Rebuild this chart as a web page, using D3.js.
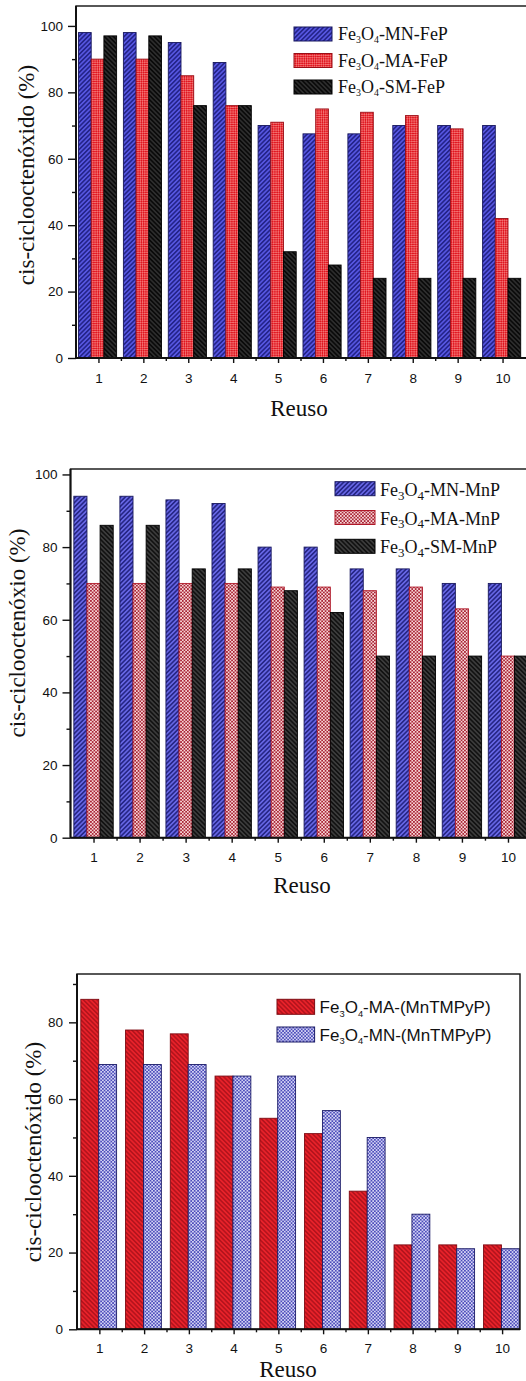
<!DOCTYPE html>
<html>
<head>
<meta charset="utf-8">
<script src="https://cdn.jsdelivr.net/npm/d3@7/dist/d3.min.js"></script>
<style>
  html, body { margin: 0; padding: 0; background: #fff; }
  svg { display: block; }
</style>
</head>
<body>
<svg id="fig" width="526" height="1381"></svg>
<script>
// Reuse cycles (x categories) and tick labels
const reuso = [1, 2, 3, 4, 5, 6, 7, 8, 9, 10];
const xTickLabels = ["1", "2", "3", "4", "5", "6", "7", "8", "9", "10"];

// Panel 1: FeP catalysts, cis-cyclooctene oxide yield (%)
const mnFeP = [98, 98, 95, 89, 70, 67.5, 67.5, 70, 70, 70];
const maFeP = [90, 90, 85, 76, 71, 75, 74, 73, 69, 42];
const smFeP = [97, 97, 76, 76, 32, 28, 24, 24, 24, 24];
const namesFeP = ["Fe3O4-MN-FeP", "Fe3O4-MA-FeP", "Fe3O4-SM-FeP"];

// Panel 2: MnP catalysts
const mnMnP = [94, 94, 93, 92, 80, 80, 74, 74, 70, 70];
const maMnP = [70, 70, 70, 70, 69, 69, 68, 69, 63, 50];
const smMnP = [86, 86, 74, 74, 68, 62, 50, 50, 50, 50];
const namesMnP = ["Fe3O4-MN-MnP", "Fe3O4-MA-MnP", "Fe3O4-SM-MnP"];

// Panel 3: MnTMPyP catalysts
const maTMPyP = [86, 78, 77, 66, 55, 51, 36, 22, 22, 22];
const mnTMPyP = [69, 69, 69, 66, 66, 57, 50, 30, 21, 21];
const namesTMPyP = ["Fe3O4-MA-(MnTMPyP)", "Fe3O4-MN-(MnTMPyP)"];

// Axis ticks
const yTicks100 = [0, 20, 40, 60, 80, 100];
const yMinor100 = [10, 30, 50, 70, 90];
const yTicks90 = [0, 20, 40, 60, 80];
const yMinor90 = [10, 30, 50, 70, 90];
const xMinor = [1.5, 2.5, 3.5, 4.5, 5.5, 6.5, 7.5, 8.5, 9.5];

const svg = d3.select("#fig");
svg.append("rect").attr("width", 526).attr("height", 1381).attr("fill", "#fff");
const defs = svg.append("defs");

function hatch(id, bg, fg, angle, period, lw) {
  const p = defs.append("pattern").attr("id", id)
    .attr("patternUnits", "userSpaceOnUse")
    .attr("width", period).attr("height", period)
    .attr("patternTransform", `rotate(${angle})`);
  p.append("rect").attr("width", period).attr("height", period).attr("fill", bg);
  p.append("line").attr("x1", period / 2).attr("y1", -1)
    .attr("x2", period / 2).attr("y2", period + 1)
    .attr("stroke", fg).attr("stroke-width", lw);
}
function checker(id, bg, fg, cell, angle) {
  const p = defs.append("pattern").attr("id", id)
    .attr("patternUnits", "userSpaceOnUse")
    .attr("width", cell * 2).attr("height", cell * 2)
    .attr("patternTransform", `rotate(${angle})`);
  p.append("rect").attr("width", cell * 2).attr("height", cell * 2).attr("fill", bg);
  p.append("rect").attr("width", cell).attr("height", cell).attr("fill", fg);
  p.append("rect").attr("x", cell).attr("y", cell).attr("width", cell).attr("height", cell).attr("fill", fg);
}

hatch("blueHatch1", "#5656e0", "#1c1c7e", 45, 3.2, 1.4);
checker("redCheck1", "#e01620", "#f27070", 1.6, 45);
hatch("blackHatch1", "#0a0a0a", "#383838", -45, 3.2, 1.2);
hatch("blueHatch2", "#6666e4", "#1e1e7a", 45, 3.2, 1.4);
checker("pinkCheck2", "#f8d6d8", "#a82434", 1.7, 0);
hatch("blackHatch2", "#121212", "#4a4a4a", -45, 3.2, 1.2);
hatch("redHatch3", "#e8222a", "#a8101a", -45, 3.2, 1.3);
checker("blueCheck3", "#d4d4f4", "#4c4cba", 1.7, 0);

function legendText(sel, name, subScale, subShift) {
  // digits in the formula (Fe3O4) are drawn as subscripts
  const parts = name.match(/\d|[^\d]+/g);
  parts.forEach(part => {
    if (/^\d$/.test(part)) {
      sel.append("tspan").attr("font-size", `${subScale}em`).attr("dy", `${subShift}em`).text(part);
    } else {
      const t = sel.append("tspan").text(part);
      if (sel.selectAll("tspan").size() > 1) t.attr("dy", `${-subShift * subScale}em`);
    }
  });
}

function drawChart(cfg) {
  const g = svg.append("g");
  const x = d3.scaleLinear().domain(cfg.xDomain).range([cfg.left, cfg.right]);
  const y = d3.scaleLinear().domain([0, cfg.yMax]).range([cfg.bottom, cfg.top]);

  // bars
  const n = cfg.series.length;
  const bw = cfg.barWidth;
  cfg.series.forEach((s, i) => {
    g.append("g").selectAll("rect").data(s.values).enter().append("rect")
      .attr("x", (d, j) => x(reuso[j] + (i - n / 2) * bw + cfg.shift))
      .attr("y", d => y(d))
      .attr("width", x(cfg.xDomain[0] + bw) - x(cfg.xDomain[0]))
      .attr("height", d => y(0) - y(d))
      .attr("fill", `url(#${s.fill})`)
      .attr("stroke", s.stroke).attr("stroke-width", 0.9);
  });

  // frame
  g.append("rect").attr("x", cfg.left).attr("y", cfg.top)
    .attr("width", cfg.frameRight - cfg.left).attr("height", cfg.bottom - cfg.top)
    .attr("fill", "none").attr("stroke", "#111").attr("stroke-width", 1.4);

  // y axis
  const yAxis = g.append("g").attr("transform", `translate(${cfg.left},0)`)
    .call(d3.axisLeft(y).tickValues(cfg.yTicks).tickSize(8).tickPadding(cfg.yPad)
      .tickFormat(d3.format("d")).tickSizeOuter(0));
  const yMinorAxis = g.append("g").attr("transform", `translate(${cfg.left},0)`)
    .call(d3.axisLeft(y).tickValues(cfg.yMinor).tickSize(4).tickFormat("").tickSizeOuter(0));

  // x axis
  const xAxis = g.append("g").attr("transform", `translate(0,${cfg.bottom})`)
    .call(d3.axisBottom(x).tickValues(reuso).tickSize(5).tickPadding(cfg.xPad)
      .tickFormat((d, i) => xTickLabels[i]).tickSizeOuter(0));
  const xMinorAxis = g.append("g").attr("transform", `translate(0,${cfg.bottom})`)
    .call(d3.axisBottom(x).tickValues(xMinor).tickSize(3).tickFormat("").tickSizeOuter(0));

  [yAxis, yMinorAxis, xAxis, xMinorAxis].forEach(a => {
    a.select(".domain").remove();
    a.selectAll("line").attr("stroke", "#111").attr("stroke-width", 1.4);
    a.selectAll("text").attr("font-family", "'Liberation Sans', Arial, sans-serif")
      .attr("font-size", 13.5).attr("fill", "#111");
  });

  // axis lines drawn heavier
  g.append("line").attr("x1", cfg.left).attr("x2", cfg.left).attr("y1", cfg.top).attr("y2", cfg.bottom)
    .attr("stroke", "#111").attr("stroke-width", 2);
  g.append("line").attr("x1", cfg.left).attr("x2", cfg.frameRight).attr("y1", cfg.bottom).attr("y2", cfg.bottom)
    .attr("stroke", "#111").attr("stroke-width", 2);

  // axis titles
  g.append("text")
    .attr("transform", `translate(${cfg.yTitleX},${cfg.yTitleY}) rotate(-90)`)
    .attr("text-anchor", "middle")
    .attr("font-family", "'Liberation Serif', 'Times New Roman', serif")
    .attr("font-size", 23).attr("fill", "#111")
    .text(cfg.yTitle);
  g.append("text")
    .attr("x", cfg.xTitleX).attr("y", cfg.xTitleY)
    .attr("text-anchor", "middle")
    .attr("font-family", "'Liberation Serif', 'Times New Roman', serif")
    .attr("font-size", 23).attr("fill", "#111")
    .text("Reuso");

  // legend
  const lg = g.append("g");
  cfg.series.forEach((s, i) => {
    const yy = cfg.legY + i * cfg.legStep;
    lg.append("rect").attr("x", cfg.legX).attr("y", yy)
      .attr("width", cfg.swW).attr("height", cfg.swH)
      .attr("fill", `url(#${s.fill})`).attr("stroke", s.stroke).attr("stroke-width", 1);
    const t = lg.append("text").attr("x", cfg.legX + cfg.swW + cfg.legGap).attr("y", yy + cfg.swH + cfg.legBase)
      .attr("font-family", cfg.legFont).attr("font-size", cfg.legSize).attr("fill", "#111");
    legendText(t, s.name, cfg.subScale, cfg.subShift);
  });
}

drawChart({
  xDomain: [0.5, 10.5], left: 76, right: 525, frameRight: 530,
  yMax: 106, top: 6, bottom: 358,
  yTicks: yTicks100, yMinor: yMinor100, yPad: 5, xPad: 10,
  barWidth: 0.283, shift: -0.02,
  series: [
    { name: namesFeP[0], values: mnFeP, fill: "blueHatch1", stroke: "#16165c" },
    { name: namesFeP[1], values: maFeP, fill: "redCheck1", stroke: "#9a0e16" },
    { name: namesFeP[2], values: smFeP, fill: "blackHatch1", stroke: "#000" }
  ],
  yTitle: "cis-ciclooctenóxido (%)", yTitleX: 34, yTitleY: 175,
  xTitleX: 299, xTitleY: 416,
  legX: 294, legY: 27, legStep: 26.5, swW: 38, swH: 14, legGap: 6, legBase: -1,
  legFont: "'Liberation Serif', 'Times New Roman', serif", legSize: 18, subScale: 0.55, subShift: 0.35
});

drawChart({
  xDomain: [0.5, 10.5], left: 70.5, right: 531, frameRight: 535,
  yMax: 101.5, top: 469, bottom: 837.7,
  yTicks: yTicks100, yMinor: yMinor100, yPad: 5, xPad: 10,
  barWidth: 0.285, shift: 0,
  series: [
    { name: namesMnP[0], values: mnMnP, fill: "blueHatch2", stroke: "#18185e" },
    { name: namesMnP[1], values: maMnP, fill: "pinkCheck2", stroke: "#b01828" },
    { name: namesMnP[2], values: smMnP, fill: "blackHatch2", stroke: "#000" }
  ],
  yTitle: "cis-ciclooctenóxio (%)", yTitleX: 25, yTitleY: 633,
  xTitleX: 302, xTitleY: 893,
  legX: 335, legY: 481.7, legStep: 28.8, swW: 40, swH: 14, legGap: 5, legBase: 0,
  legFont: "'Liberation Serif', 'Times New Roman', serif", legSize: 18, subScale: 0.72, subShift: 0.3
});

drawChart({
  xDomain: [0.5, 10.4], left: 77, right: 520, frameRight: 520,
  yMax: 92.6, top: 974, bottom: 1329.3,
  yTicks: yTicks90, yMinor: yMinor90, yPad: 6, xPad: 9,
  barWidth: 0.4, shift: -0.015,
  series: [
    { name: namesTMPyP[0], values: maTMPyP, fill: "redHatch3", stroke: "#7e0a12" },
    { name: namesTMPyP[1], values: mnTMPyP, fill: "blueCheck3", stroke: "#1a1a66" }
  ],
  yTitle: "cis-ciclooctenóxido (%)", yTitleX: 41, yTitleY: 1152,
  xTitleX: 288, xTitleY: 1377,
  legX: 277, legY: 999.3, legStep: 27.7, swW: 37.6, swH: 15, legGap: 5, legBase: -1,
  legFont: "'Liberation Sans', Arial, sans-serif", legSize: 17, subScale: 0.55, subShift: 0.35
});
</script>
</body>
</html>
